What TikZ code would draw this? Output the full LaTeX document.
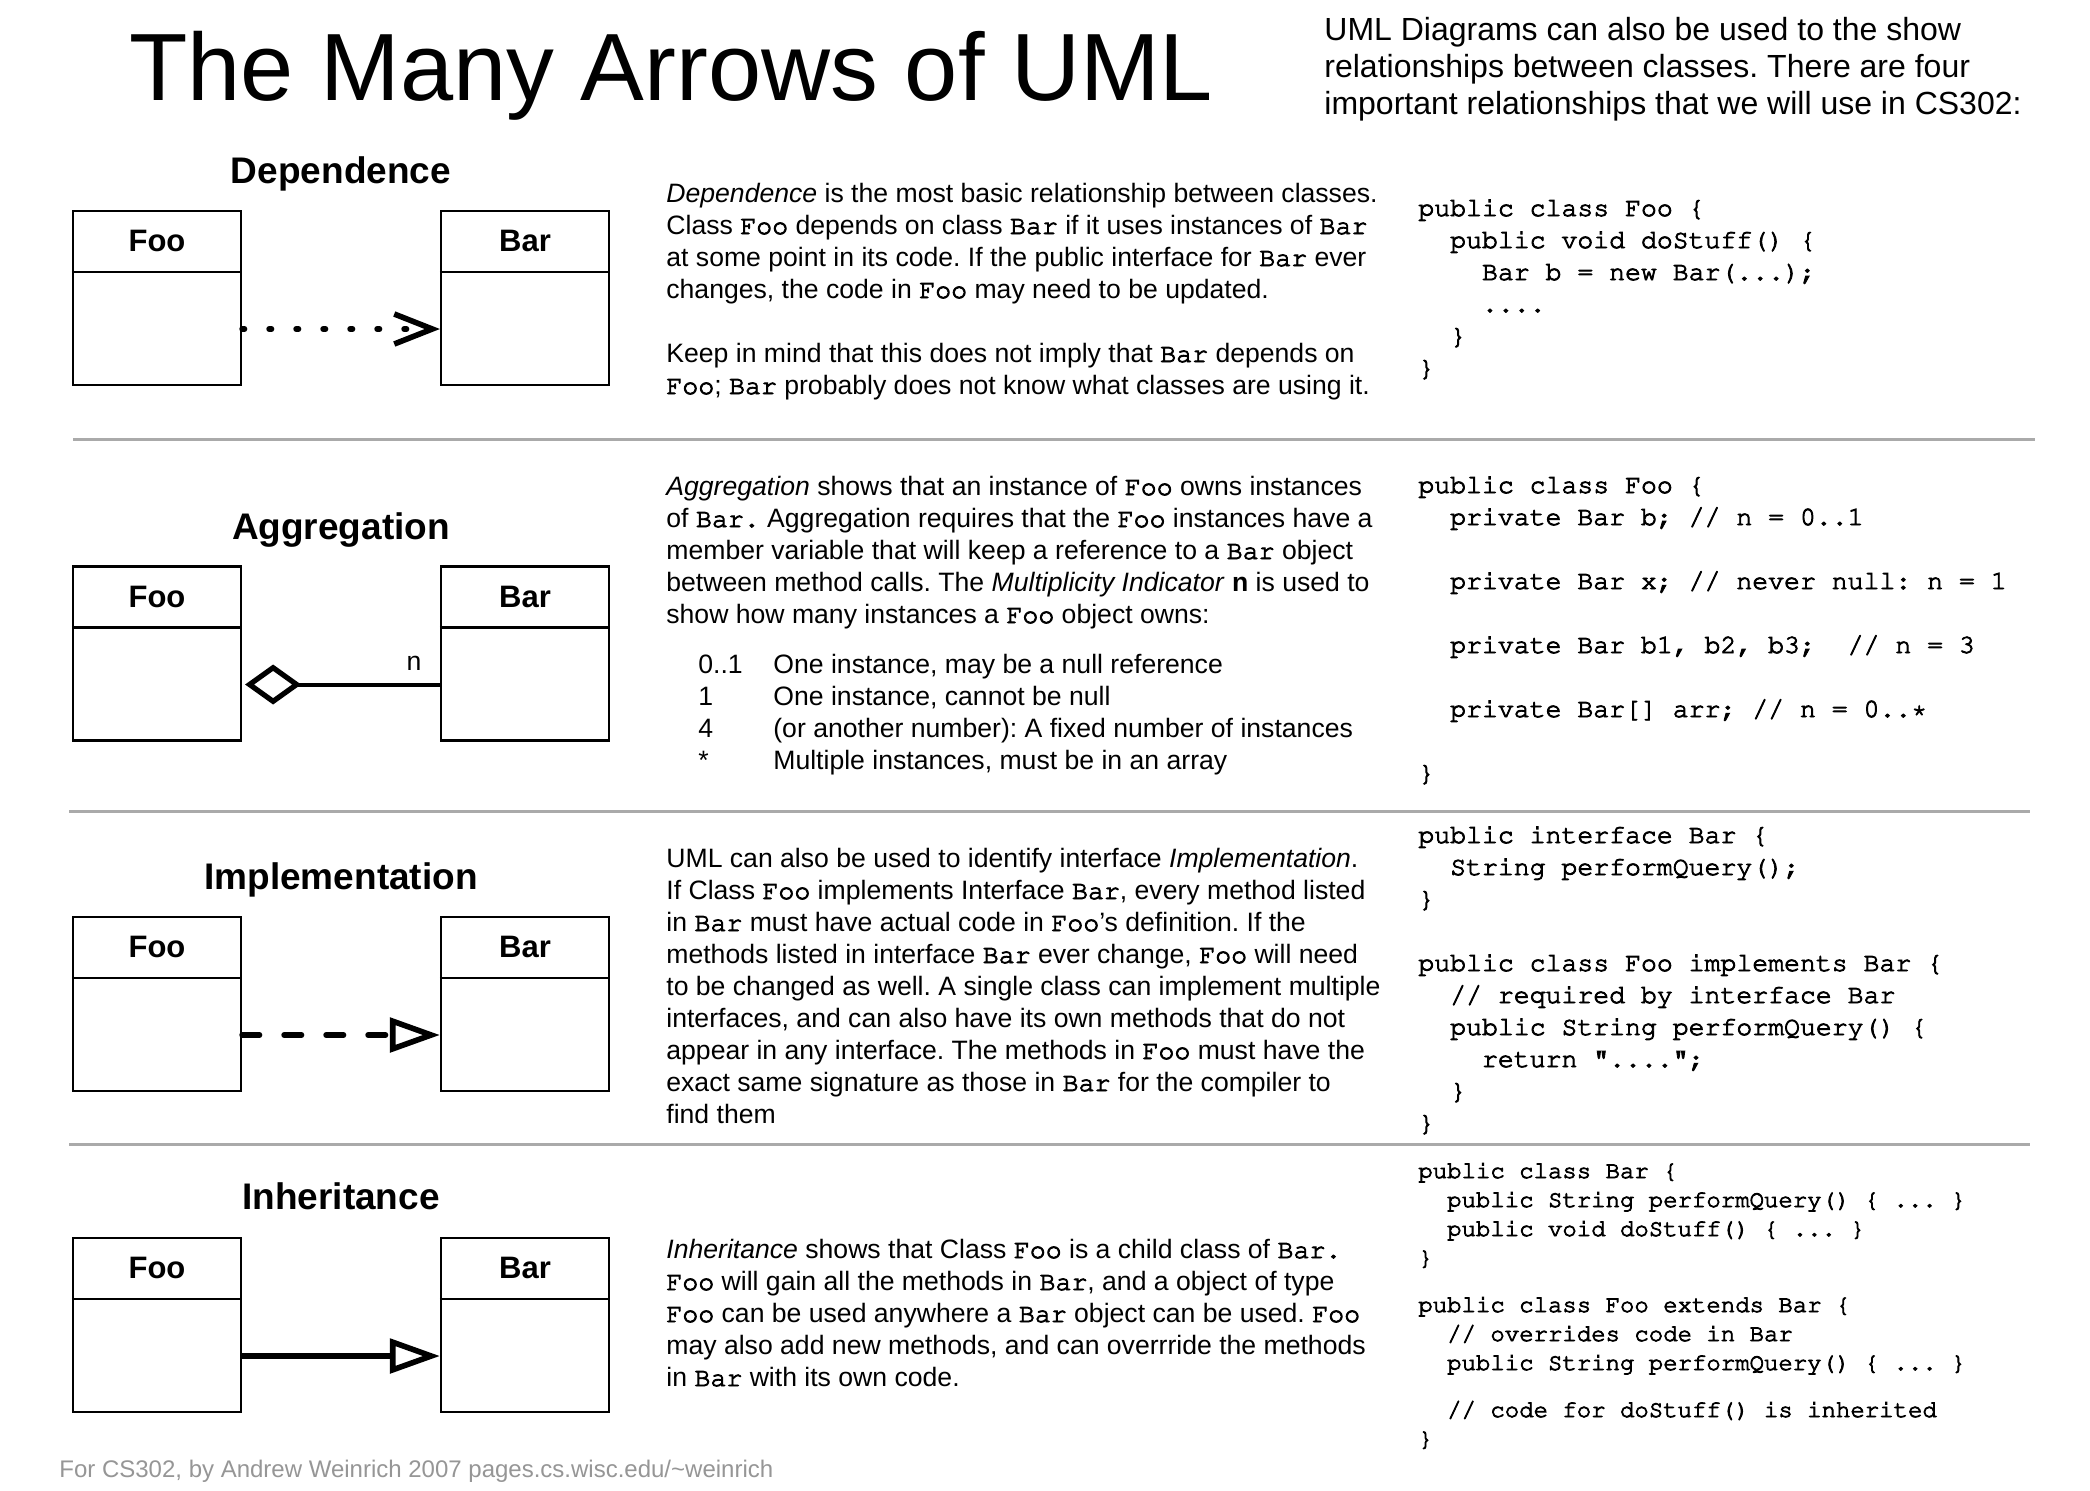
\documentclass[tikz,border=0pt]{standalone}
\usepackage[T1,TU]{fontenc}
\usepackage{fontspec}
\setmainfont{Liberation Sans}
\newcommand\cf{\fontencoding{T1}\fontfamily{pcr}\fontseries{m}\fontshape{n}\selectfont}
\newcommand\thickon{\special{pdf:literal direct 2 Tr 0.42 w}}
\newcommand\thickoff{\special{pdf:literal direct 0 Tr}}
\usetikzlibrary{arrows.meta}
\definecolor{sepgray}{RGB}{170,170,170}
\definecolor{footgray}{RGB}{150,150,150}
\newcommand\cc[1]{{\cf\thickon #1\thickoff}}
\newcommand\ind{\hspace*{1.2em}}
\newcommand\codetab[1]{\thickon\begin{tabular}[t]{@{}l@{}}#1\end{tabular}\thickoff}
\frenchspacing
\tikzset{
  cls/.style={draw, line width=1.1pt, minimum width=84pt, minimum height=87pt, inner sep=0pt},
  clsname/.style={anchor=base, inner sep=0pt, font=\fontsize{15.5pt}{18pt}\selectfont\bfseries},
  head/.style={anchor=base, inner sep=0pt, font=\fontsize{18.5pt}{22pt}\selectfont\bfseries},
  para/.style={anchor=base west, inner sep=0pt, font=\fontsize{13.3pt}{16pt}\selectfont\frenchspacing},
  codeblk/.style={anchor=base west, inner sep=0pt, font=\fontsize{13.25pt}{16pt}\selectfont\cf\frenchspacing},
  codesmall/.style={anchor=base west, inner sep=0pt, font=\fontsize{12pt}{14.5pt}\selectfont\cf\frenchspacing},
  sepline/.style={draw=sepgray, line width=1.5pt},
  deparrow/.style={line width=2.8pt, line cap=round, dash pattern=on 1.2pt off 12.3pt,
     -{Straight Barb[length=19pt, width=15pt]}},
  implarrow/.style={line width=2.8pt, line cap=round, dash pattern=on 8.7pt off 12.3pt,
     -{Triangle[open, length=25pt, width=17pt]}},
  inharrow/.style={line width=2.8pt, -{Triangle[open, length=25pt, width=17pt]}},
  aggarrow/.style={line width=2pt, {Diamond[open, length=28pt, width=20pt, line width=2.6pt]}-, shorten <=1.5pt},
}
\newcommand\umlclass[4]{%
  \node[cls] (#1) at (#2,#3) {};
  \draw[line width=1.1pt] ([yshift=-31pt]#1.north west) -- ([yshift=-31pt]#1.north east);
  \node[clsname] (#1-l) at ([yshift=-21pt]#1.north) {#4};
}
\begin{document}
\begin{tikzpicture}[x=0.5pt, y=-0.5pt]
\useasboundingbox[fill=white] (0,0) rectangle (2090,1490);

% title and intro
\node[anchor=base west, inner sep=0pt, font=\fontsize{47.8pt}{57pt}\selectfont] (title) at (129,100) {The Many Arrows of UML};
\node[anchor=base west, inner sep=0pt, font=\fontsize{16pt}{18.5pt}\selectfont\frenchspacing] (intro) at (1324,40) {\begin{tabular}[t]{@{}l@{}}
UML Diagrams can also be used to the show\\
relationships between classes. There are four\\
important relationships that we will use in CS302:
\end{tabular}};

% separators
\draw[sepline] (73,439) -- (2035,439);
\draw[sepline] (69,811) -- (2030,811);
\draw[sepline] (69,1144) -- (2030,1144);

% ---------- Dependence ----------
\node[head] (h1) at (341,183) {Dependence};
\umlclass{foo1}{157}{298}{Foo}
\umlclass{bar1}{525}{298}{Bar}
\draw[deparrow] ([yshift=-15.5pt]foo1.east) -- ([yshift=-15.5pt]bar1.west);
\node[para] (p1) at (666,202) {\begin{tabular}[t]{@{}l@{}}
\textit{Dependence} is the most basic relationship between classes.\\
Class \cc{Foo} depends on class \cc{Bar} if it uses instances of \cc{Bar}\\
at some point in its code. If the public interface for \cc{Bar} ever\\
changes, the code in \cc{Foo} may need to be updated.\\
\\
Keep in mind that this does not imply that \cc{Bar} depends on\\
\cc{Foo}; \cc{Bar} probably does not know what classes are using it.
\end{tabular}};
\node[codeblk] (c1) at (1418,216) {\codetab{%
public class Foo \{\\
\ind public void doStuff() \{\\
\ind\ind Bar b = new Bar(...);\\
\ind\ind ....\\
\ind\}\\
\}}};

% ---------- Aggregation ----------
\node[head] (h2) at (341,539) {Aggregation};
\umlclass{foo2}{157}{653.5}{Foo}
\umlclass{bar2}{525}{653.5}{Bar}
\draw[aggarrow] ([yshift=-15.5pt]foo2.east) -- ([yshift=-15.5pt]bar2.west);
\node[para, anchor=base] (nlab) at (414,670) {n};
\node[para] (p2) at (666,495) {\begin{tabular}[t]{@{}l@{}}
\textit{Aggregation} shows that an instance of \cc{Foo} owns instances\\
of \cc{Bar.} Aggregation requires that the \cc{Foo} instances have a\\
member variable that will keep a reference to a \cc{Bar} object\\
between method calls. The \textit{Multiplicity Indicator} \textbf{n} is used to\\
show how many instances a \cc{Foo} object owns:
\end{tabular}};
\node[para] (l2) at (698,673) {\begin{tabular}[t]{@{}p{37.5pt}@{}l@{}}
0..1 & One instance, may be a null reference\\
1 & One instance, cannot be null\\
4 & (or another number): A fixed number of instances\\
{*} & Multiple instances, must be in an array
\end{tabular}};
\node[codeblk] (c2) at (1418,493) {\codetab{%
public class Foo \{\\
\ind private Bar b; // n = 0..1\\
\\
\ind private Bar x; // never null: n = 1\\
\\
\ind private Bar b1, b2, b3;~~// n = 3\\
\\
\ind private Bar[] arr; // n = 0..*\\
\\
\}}};

% ---------- Implementation ----------
\node[head] (h3) at (341,889) {Implementation};
\umlclass{foo3}{157}{1004}{Foo}
\umlclass{bar3}{525}{1004}{Bar}
\draw[implarrow] ([yshift=-15.5pt]foo3.east) -- ([yshift=-15.5pt]bar3.west);
\node[para] (p3) at (666,867) {\begin{tabular}[t]{@{}l@{}}
UML can also be used to identify interface \textit{Implementation}.\\
If Class \cc{Foo} implements Interface \cc{Bar}, every method listed\\
in \cc{Bar} must have actual code in \cc{Foo}'s definition. If the\\
methods listed in interface \cc{Bar} ever change, \cc{Foo} will need\\
to be changed as well. A single class can implement multiple\\
interfaces, and can also have its own methods that do not\\
appear in any interface. The methods in \cc{Foo} must have the\\
exact same signature as those in \cc{Bar} for the compiler to\\
find them
\end{tabular}};
\node[codeblk] (c3) at (1418,843) {\codetab{%
public interface Bar \{\\
\ind String performQuery();\\
\}\\
\\
public class Foo implements Bar \{\\
\ind // required by interface Bar\\
\ind public String performQuery() \{\\
\ind\ind return "....";\\
\ind\}\\
\}}};

% ---------- Inheritance ----------
\node[head] (h4) at (341,1209) {Inheritance};
\umlclass{foo4}{157}{1325}{Foo}
\umlclass{bar4}{525}{1325}{Bar}
\draw[inharrow] ([yshift=-15.5pt]foo4.east) -- ([yshift=-15.5pt]bar4.west);
\node[para] (p4) at (666,1258) {\begin{tabular}[t]{@{}l@{}}
\textit{Inheritance} shows that Class \cc{Foo} is a child class of \cc{Bar.}\\
\cc{Foo} will gain all the methods in \cc{Bar}, and a object of type\\
\cc{Foo} can be used anywhere a \cc{Bar} object can be used. \cc{Foo}\\
may also add new methods, and can overrride the methods\\
in \cc{Bar} with its own code.
\end{tabular}};
\node[codesmall] (c4) at (1418,1178) {\codetab{%
public class Bar \{\\
\ind public String performQuery() \{ ... \}\\
\ind public void doStuff() \{ ... \}\\
\}\\[9pt]
public class Foo extends Bar \{\\
\ind // overrides code in Bar\\
\ind public String performQuery() \{ ... \}\\[9pt]
\ind // code for doStuff() is inherited\\
\}}};

% footer
\node[anchor=base west, inner sep=0pt, text=footgray, font=\fontsize{12pt}{14pt}\selectfont\frenchspacing] (foot) at (59,1477) {For CS302, by Andrew Weinrich 2007 pages.cs.wisc.edu/\textasciitilde weinrich};
\end{tikzpicture}
\end{document}
